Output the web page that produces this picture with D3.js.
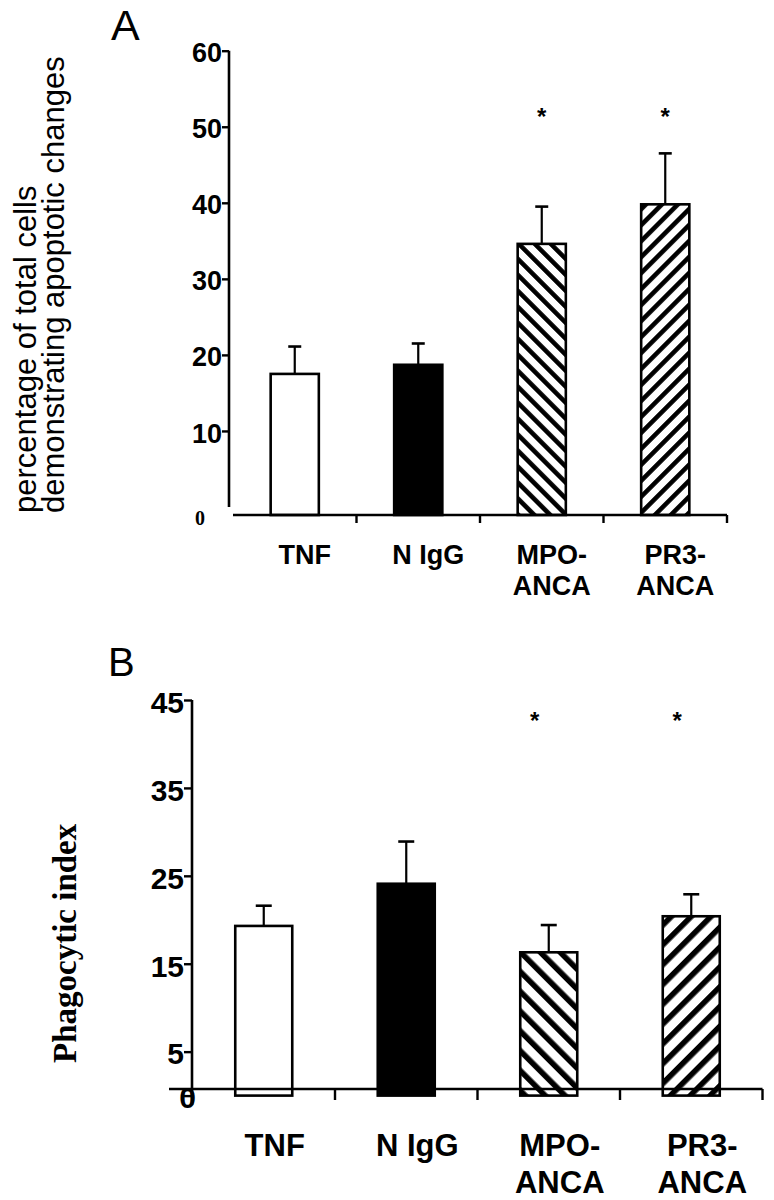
<!DOCTYPE html>
<html>
<head>
<meta charset="utf-8">
<script src="https://cdn.jsdelivr.net/npm/d3@7"></script>
<style>
  body { margin: 0; background: #fff; }
  svg { display: block; }
</style>
</head>
<body>
<div id="chart"></div>
<script>
// treatment groups on the x axis
const groups = ["TNF", "N IgG", "MPO-ANCA", "PR3-ANCA"];
const groupLines = [["TNF"], ["N IgG"], ["MPO-", "ANCA"], ["PR3-", "ANCA"]];

// panel A : percentage of cells with apoptotic changes
const apoMean = [17.5, 18.7, 34.6, 39.8];
const apoErr = [3.6, 2.8, 4.9, 6.7];
const apoTicks = [10, 20, 30, 40, 50, 60];
const apoStar = [false, false, true, true];
const apoStarLevel = 52;

// panel B : phagocytic index
const phagoMean = [19.3, 24.1, 16.3, 20.4];
const phagoErr = [2.3, 4.8, 3.1, 2.5];
const phagoTicks = [0, 5, 15, 25, 35, 45];
const phagoStar = [false, false, true, true];
const phagoStarLevel = 43.3;

const SANS = "'Liberation Sans', Arial, Helvetica, sans-serif";
const SERIF = "'Liberation Serif', 'Times New Roman', serif";

var svg = d3.select("#chart")
  .append("svg")
  .attr("width", 774)
  .attr("height", 1200);

var defs = svg.append("defs");

// diagonal stripes, angle 45 gives "/" and -45 gives "\"
function hatch(id, angle, size, thick) {
  var p = defs.append("pattern")
    .attr("id", id)
    .attr("patternUnits", "userSpaceOnUse")
    .attr("width", size)
    .attr("height", size)
    .attr("patternTransform", "rotate(" + angle + ")");
  p.append("rect").attr("width", size).attr("height", size).attr("fill", "#fff");
  p.append("rect").attr("width", thick).attr("height", size).attr("fill", "#000");
}
hatch("backA", -45, 11.3, 4.6);
hatch("fwdA", 45, 11.3, 4.6);
hatch("backB", -45, 14, 5.6);
hatch("fwdB", 45, 14, 5.6);

function panel(o) {
  var g = svg.append("g");

  var x = d3.scaleBand()
    .domain(groups)
    .range(o.xRange)
    .paddingInner(o.pad)
    .paddingOuter(o.pad / 2);
  var y = d3.scaleLinear()
    .domain(o.yDomain)
    .range(o.yRange);
  var bw = x.bandwidth();
  var half = x.step() * o.pad / 2;

  var rows = groups.map(function(k, i) {
    return {k: k, mean: o.mean[i], err: o.err[i], star: o.star[i], lines: groupLines[i], fill: o.fills[i]};
  });

  var base = o.barBase != null ? o.barBase : y(0);

  // bars
  g.selectAll("rect.bar")
    .data(rows)
    .enter()
    .append("rect")
    .attr("class", "bar")
    .attr("x", function(d) { return x(d.k); })
    .attr("y", function(d) { return y(d.mean); })
    .attr("width", bw)
    .attr("height", function(d) { return base - y(d.mean); })
    .attr("fill", function(d) { return d.fill; })
    .attr("stroke", "#000")
    .attr("stroke-width", 2.6);

  // error bars (upper only)
  g.selectAll("line.err")
    .data(rows)
    .enter()
    .append("line")
    .attr("class", "err")
    .attr("x1", function(d) { return x(d.k) + bw / 2; })
    .attr("x2", function(d) { return x(d.k) + bw / 2; })
    .attr("y1", function(d) { return y(d.mean); })
    .attr("y2", function(d) { return y(d.mean + d.err); })
    .attr("stroke", "#000")
    .attr("stroke-width", 2.2);
  g.selectAll("line.cap")
    .data(rows)
    .enter()
    .append("line")
    .attr("class", "cap")
    .attr("x1", function(d) { return x(d.k) + bw / 2 - o.cap / 2; })
    .attr("x2", function(d) { return x(d.k) + bw / 2 + o.cap / 2; })
    .attr("y1", function(d) { return y(d.mean + d.err); })
    .attr("y2", function(d) { return y(d.mean + d.err); })
    .attr("stroke", "#000")
    .attr("stroke-width", 2.6);

  // significance stars
  g.selectAll("text.star")
    .data(rows.filter(function(d) { return d.star; }))
    .enter()
    .append("text")
    .attr("class", "star")
    .attr("x", function(d) { return x(d.k) + bw / 2 + o.starDx; })
    .attr("y", y(o.starLevel))
    .attr("dy", "0.58em")
    .attr("text-anchor", "middle")
    .style("font-family", SANS)
    .style("font-weight", "bold")
    .style("font-size", "24px")
    .text("*");

  // y axis
  var yAxis = g.append("g")
    .attr("transform", "translate(" + o.axisX + ",0)")
    .call(d3.axisLeft(y).tickValues(o.ticks).tickSize(o.tickLen).tickPadding(0));
  yAxis.select(".domain").remove();
  yAxis.selectAll(".tick line").attr("stroke", "#000").attr("stroke-width", 2.4);
  yAxis.selectAll(".tick text")
    .attr("dy", "0.41em")
    .attr("dx", function(d) { return d === 0 ? o.zeroDx : 0; })
    .attr("fill", "#000")
    .style("font-family", SANS)
    .style("font-weight", "bold")
    .style("font-size", o.tickFont + "px");
  g.append("line")
    .attr("x1", o.axisX).attr("x2", o.axisX)
    .attr("y1", y(o.yDomain[1])).attr("y2", o.yAxisEnd)
    .attr("stroke", "#000")
    .attr("stroke-width", 2.6);

  // x axis with ticks between groups
  g.append("line")
    .attr("x1", o.xAxisStart).attr("x2", o.xRange[1])
    .attr("y1", o.xAxisY).attr("y2", o.xAxisY)
    .attr("stroke", "#000")
    .attr("stroke-width", 2.6);
  g.selectAll("line.xtick")
    .data(rows)
    .enter()
    .append("line")
    .attr("class", "xtick")
    .attr("x1", function(d) { return x(d.k) + bw + half; })
    .attr("x2", function(d) { return x(d.k) + bw + half; })
    .attr("y1", o.xAxisY)
    .attr("y2", o.xAxisY + o.xTickLen)
    .attr("stroke", "#000")
    .attr("stroke-width", 2.4);

  // group names
  var lab = g.selectAll("text.grp")
    .data(rows)
    .enter()
    .append("text")
    .attr("class", "grp")
    .attr("text-anchor", "middle")
    .style("font-family", SANS)
    .style("font-weight", "bold")
    .style("font-size", o.labFont + "px");
  lab.selectAll("tspan")
    .data(function(d) { return d.lines.map(function(t) { return {t: t, cx: x(d.k) + bw / 2 + o.labDx}; }); })
    .enter()
    .append("tspan")
    .attr("x", function(d) { return d.cx; })
    .attr("y", function(d, i) { return o.labY + i * o.labGap; })
    .text(function(d) { return d.t; });

  // panel letter
  g.append("text")
    .attr("x", o.letterX)
    .attr("y", o.letterY)
    .style("font-family", SANS)
    .style("font-size", o.letterFont + "px")
    .text(o.letter);

  return {g: g, x: x, y: y};
}

// ---- panel A
var A = panel({
  mean: apoMean, err: apoErr, star: apoStar, starLevel: apoStarLevel, ticks: apoTicks,
  fills: ["#fff", "#000", "url(#backA)", "url(#fwdA)"],
  xRange: [233, 727], pad: 0.61,
  yDomain: [0, 60], yRange: [507, 50.7],
  barBase: 515, axisX: 229, yAxisEnd: 507, tickLen: 7, tickFont: 27, zeroDx: 0,
  xAxisStart: 233, xAxisY: 515, xTickLen: 8,
  cap: 13, starDx: 0,
  labFont: 27, labY: 564, labGap: 31, labDx: 10,
  letter: "A", letterX: 111, letterY: 40, letterFont: 43
});

// zero of panel A is set in a serif face
A.g.append("text")
  .attr("x", 205)
  .attr("y", 525)
  .attr("text-anchor", "end")
  .style("font-family", SERIF)
  .style("font-weight", "bold")
  .style("font-size", "20px")
  .text("0");

var labA = A.g.append("text")
  .attr("transform", "translate(0,513) rotate(-90)")
  .style("font-family", SANS)
  .style("font-size", "31px");
labA.append("tspan").attr("x", 0).attr("y", 36).text("percentage of total cells");
labA.append("tspan").attr("x", 0).attr("y", 64).text("demonstrating apoptotic changes");

// ---- panel B
var B = panel({
  mean: phagoMean, err: phagoErr, star: phagoStar, starLevel: phagoStarLevel, ticks: phagoTicks,
  fills: ["#fff", "#000", "url(#backB)", "url(#fwdB)"],
  xRange: [192.5, 762.5], pad: 0.6,
  yDomain: [0, 45], yRange: [1095.6, 700],
  barBase: null, axisX: 192, yAxisEnd: 1105, tickLen: 8, tickFont: 30, zeroDx: 12,
  xAxisStart: 169, xAxisY: 1089, xTickLen: 11,
  cap: 16, starDx: -14,
  labFont: 31, labY: 1156, labGap: 37, labDx: 11,
  letter: "B", letterX: 108, letterY: 676, letterFont: 40
});

B.g.append("text")
  .attr("transform", "translate(76,1063) rotate(-90)")
  .style("font-family", SERIF)
  .style("font-weight", "bold")
  .style("font-size", "33px")
  .text("Phagocytic index");
</script>
</body>
</html>
